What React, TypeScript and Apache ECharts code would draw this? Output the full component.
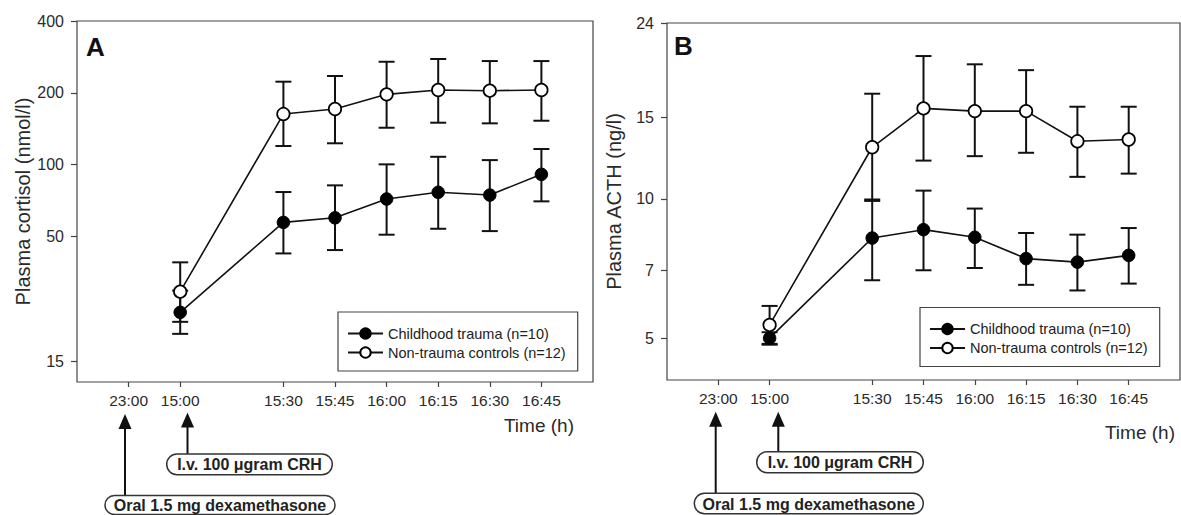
import React, { useEffect, useRef } from "react";
import * as echarts from "echarts";

// ---- Data ----
const timeLabels = ["23:00", "15:00", "15:30", "15:45", "16:00", "16:15", "16:30", "16:45"];
// x position of each time label in 15-minute units (23:00 of the previous evening drawn one step before 15:00)
const timePos = [-1, 0, 2, 3, 4, 5, 6, 7];
// sampling times (15:00 .. 16:45)
const sampleIdx = [1, 2, 3, 4, 5, 6, 7];

const traumaName = "Childhood trauma (n=10)";
const controlName = "Non-trauma controls (n=12)";

// Panel A: plasma cortisol (nmol/l)
const traumaCortisol = [24.0, 57.2, 59.8, 71.7, 76.5, 74.5, 91.0];
const traumaCortisolLow = [19.5, 42.4, 43.8, 50.8, 53.8, 52.6, 70.1];
const traumaCortisolHigh = [29.6, 76.7, 81.8, 100.2, 107.8, 104.4, 116.2];
const controlCortisol = [29.3, 162.9, 171.0, 197.0, 205.4, 204.1, 205.4];
const controlCortisolLow = [21.9, 119.6, 122.8, 142.7, 149.8, 148.9, 152.7];
const controlCortisolHigh = [38.9, 222.6, 235.2, 269.9, 277.2, 271.7, 271.7];
const cortisolTicks = [15, 50, 100, 200, 400];

// Panel B: plasma ACTH (ng/l)
const traumaACTH = [5.0, 8.23, 8.58, 8.26, 7.43, 7.3, 7.55];
const traumaACTHLow = [4.84, 6.67, 7.01, 7.09, 6.52, 6.34, 6.56];
const traumaACTHHigh = [5.15, 9.97, 10.42, 9.53, 8.44, 8.37, 8.65];
const controlACTH = [5.34, 12.93, 15.69, 15.48, 15.48, 13.32, 13.44];
const controlACTHLow = [4.86, 9.9, 12.1, 12.37, 12.58, 11.16, 11.34];
const controlACTHHigh = [5.87, 16.88, 20.36, 19.54, 18.98, 15.82, 15.82];
const acthTicks = [5, 7, 10, 15, 24];

const FONT = "'Liberation Sans', Arial, Helvetica, sans-serif";
const log = (v: number) => Math.log10(v);

function lineData(vals: number[]) {
  return vals.map((v, i) => [timePos[sampleIdx[i]], log(v)]);
}
function errData(lo: number[], hi: number[]) {
  return lo.map((l, i) => [timePos[sampleIdx[i]], log(l), log(hi[i])]);
}

const errRender = (params: any, api: any) => {
  const x = api.value(0);
  const pLo = api.coord([x, api.value(1)]);
  const pHi = api.coord([x, api.value(2)]);
  const hw = 8;
  const style = { stroke: "#111", lineWidth: 2 };
  return {
    type: "group",
    children: [
      { type: "line", shape: { x1: pLo[0], y1: pLo[1], x2: pHi[0], y2: pHi[1] }, style },
      { type: "line", shape: { x1: pLo[0] - hw, y1: pLo[1], x2: pLo[0] + hw, y2: pLo[1] }, style },
      { type: "line", shape: { x1: pHi[0] - hw, y1: pHi[1], x2: pHi[0] + hw, y2: pHi[1] }, style },
    ],
  };
};

function xAxisFor(gridIndex: number) {
  return {
    type: "value",
    gridIndex,
    min: -2,
    max: 8,
    position: "bottom",
    axisLine: { show: false, onZero: false },
    splitLine: { show: false },
    axisTick: { show: true, length: 5, customValues: timePos, lineStyle: { color: "#444", width: 1.2 } },
    axisLabel: {
      customValues: timePos,
      margin: 10,
      fontSize: 15.5,
      color: "#2a2a2a",
      fontFamily: FONT,
      formatter: (v: number) => timeLabels[timePos.indexOf(v)] ?? "",
    },
  };
}

function yAxisFor(gridIndex: number, ticks: number[], min: number, max: number, name: string) {
  const tv = ticks.map(log);
  return {
    type: "value",
    gridIndex,
    min: log(min),
    max: log(max),
    position: "left",
    name,
    nameLocation: "middle",
    nameGap: 43,
    nameTextStyle: { fontSize: 20, color: "#2a2a2a", fontFamily: FONT },
    axisLine: { show: false, onZero: false },
    splitLine: { show: false },
    axisTick: { show: true, length: 6, customValues: tv, lineStyle: { color: "#444", width: 1.2 } },
    axisLabel: {
      customValues: tv,
      margin: 13,
      fontSize: 16,
      color: "#2a2a2a",
      fontFamily: FONT,
      formatter: (v: number) => String(Math.round(Math.pow(10, v))),
    },
  };
}

function lineSeries(name: string, idx: number, vals: number[], filled: boolean) {
  return {
    type: "line",
    name,
    xAxisIndex: idx,
    yAxisIndex: idx,
    data: lineData(vals),
    symbol: "circle",
    symbolSize: 12.5,
    z: 3,
    lineStyle: { color: "#111", width: 1.6 },
    itemStyle: filled
      ? { color: "#000", borderColor: "#000", borderWidth: 1 }
      : { color: "#fff", borderColor: "#000", borderWidth: 1.7 },
  };
}

function errSeries(idx: number, lo: number[], hi: number[]) {
  return {
    type: "custom",
    xAxisIndex: idx,
    yAxisIndex: idx,
    data: errData(lo, hi),
    encode: { x: 0, y: [1, 2] },
    renderItem: errRender,
    z: 1,
    silent: true,
  };
}

function legendAt(left: number, top: number) {
  return {
    left,
    top,
    orient: "vertical",
    data: [traumaName, controlName],
    itemWidth: 35,
    itemHeight: 13,
    itemGap: 4,
    padding: [14, 12, 11, 9],
    borderColor: "#444",
    borderWidth: 1.2,
    backgroundColor: "#fff",
    selectedMode: false,
    textStyle: { fontSize: 14.5, color: "#222", fontFamily: FONT },
  };
}

function arrow(x: number, tip: number, bottom: number) {
  return [
    { type: "line", shape: { x1: x, y1: tip + 12, x2: x, y2: bottom }, style: { stroke: "#111", lineWidth: 2 } },
    {
      type: "polygon",
      shape: { points: [[x, tip], [x - 6.5, tip + 15], [x + 6.5, tip + 15]] },
      style: { fill: "#111" },
    },
  ];
}

function labelBox(x: number, y: number, w: number, h: number, text: string) {
  return [
    { type: "rect", shape: { x, y, width: w, height: h, r: h / 2 }, style: { fill: "#fff", stroke: "#333", lineWidth: 1.5 } },
    {
      type: "text",
      x: x + w / 2,
      y: y + h / 2 + 0.5,
      style: { text, fontSize: 16, fontWeight: "bold", fill: "#222", fontFamily: FONT, align: "center", verticalAlign: "middle" },
    },
  ];
}

function plainText(x: number, y: number, text: string, size: number, align: string, bold = false) {
  return {
    type: "text",
    x,
    y,
    style: { text, fontSize: size, fontWeight: bold ? "bold" : "normal", fill: bold ? "#111" : "#2a2a2a", fontFamily: FONT, align, verticalAlign: "middle" },
  };
}

export default function App() {
  const ref = useRef<HTMLDivElement>(null);
  useEffect(() => {
    document.body.style.margin = "0";
    const chart = echarts.init(ref.current!, null, { renderer: "svg" });
    const option: any = {
      animation: false,
      backgroundColor: "#fff",
      grid: [
        { left: 77, top: 21, width: 516, height: 361, show: true, borderColor: "#444", borderWidth: 1.2, containLabel: false },
        { left: 667, top: 23, width: 513, height: 357, show: true, borderColor: "#444", borderWidth: 1.2, containLabel: false },
      ],
      xAxis: [xAxisFor(0), xAxisFor(1)],
      yAxis: [
        yAxisFor(0, cortisolTicks, 12.25, 400, "Plasma cortisol (nmol/l)"),
        yAxisFor(1, acthTicks, 4.06, 24, "Plasma ACTH (ng/l)"),
      ],
      legend: [legendAt(338, 312), legendAt(920, 307.5)],
      series: [
        errSeries(0, controlCortisolLow, controlCortisolHigh),
        errSeries(0, traumaCortisolLow, traumaCortisolHigh),
        lineSeries(traumaName, 0, traumaCortisol, true),
        lineSeries(controlName, 0, controlCortisol, false),
        errSeries(1, controlACTHLow, controlACTHHigh),
        errSeries(1, traumaACTHLow, traumaACTHHigh),
        lineSeries(traumaName, 1, traumaACTH, true),
        lineSeries(controlName, 1, controlACTH, false),
      ],
      graphic: [
        plainText(86, 46.5, "A", 26, "left", true),
        plainText(674, 46, "B", 26, "left", true),
        plainText(574, 425, "Time (h)", 19, "right"),
        plainText(1175, 432, "Time (h)", 19, "right"),
        ...arrow(125, 414, 496),
        ...arrow(187.5, 412.5, 454),
        ...labelBox(166.7, 454, 165.6, 20.7, "I.v. 100 μgram CRH"),
        ...labelBox(105, 495.5, 230, 19, "Oral 1.5 mg dexamethasone"),
        ...arrow(715.7, 411.7, 493.3),
        ...arrow(778.3, 411.7, 451.7),
        ...labelBox(756.7, 451.7, 166.6, 21, "I.v. 100 μgram CRH"),
        ...labelBox(694.3, 493.3, 229, 20.5, "Oral 1.5 mg dexamethasone"),
      ],
    };
    chart.setOption(option);
    return () => chart.dispose();
  }, []);
  return <div ref={ref} style={{ position: "absolute", left: 0, top: 0, width: 1181, height: 515 }} />;
}
